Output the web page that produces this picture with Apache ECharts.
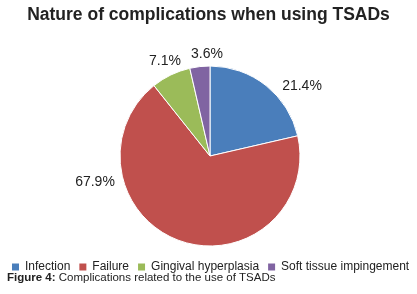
<!DOCTYPE html>
<html lang="en">
<head>
    <meta charset="UTF-8">
    <title>Nature of complications</title>
    <script type="text/javascript" src="https://cdn.jsdelivr.net/npm/echarts@6/dist/echarts.min.js"></script>
    <style>
        html, body { margin: 0; padding: 0; background: #fff; }
    </style>
</head>
<body>
<div id="chartmain" style="width:417px;height:294px"></div>
<script>
    var categories = ['Infection', 'Failure', 'Gingival hyperplasia', 'Soft tissue impingement'];
    var values = [21.4, 67.9, 7.1, 3.6];
    var colors = ['#4a7ebb', '#c0504d', '#9bbb59', '#8064a2'];
    // label centres (Excel "best fit" placement), px
    var labelSpots = [[302, 86], [95, 182], [165, 61], [207, 54]];

    var pieData = [];
    for (var i = 0; i < categories.length; i++) {
        pieData.push({ name: categories[i], value: values[i], itemStyle: { color: colors[i] } });
    }

    var font = '"Liberation Sans", Arial, Helvetica, sans-serif';

    var option = {
        animation: false,
        title: {
            text: 'Nature of complications when using TSADs',
            left: 'center',
            top: 6,
            padding: 0,
            textStyle: { fontFamily: font, fontSize: 17.5, fontWeight: 'bold', color: '#222' }
        },
        legend: {
            top: 261,
            left: 10,
            padding: 0,
            width: 410,
            itemWidth: 9,
            itemHeight: 9,
            itemGap: 7,
            icon: 'rect',
            textStyle: { fontFamily: font, fontSize: 12, color: '#222' },
            data: categories
        },
        graphic: [{
            type: 'text',
            left: 7,
            top: 272,
            style: {
                text: '{b|Figure 4:} Complications related to the use of TSADs',
                font: '11.5px ' + font,
                fill: '#222',
                rich: {
                    b: { fontFamily: font, fontSize: 11.5, fontWeight: 'bold', fill: '#222' }
                }
            }
        }],
        series: [{
            type: 'pie',
            center: [210, 156],
            radius: 90,
            startAngle: 90,
            clockwise: true,
            itemStyle: { borderColor: '#fff', borderWidth: 1 },
            label: {
                show: true,
                position: 'outside',
                formatter: function (p) { return p.value.toFixed(1) + '%'; },
                fontFamily: font,
                fontSize: 14,
                color: '#222'
            },
            labelLine: { show: false },
            labelLayout: function (params) {
                var s = labelSpots[params.dataIndex];
                return { x: s[0], y: s[1], align: 'center', verticalAlign: 'middle' };
            },
            emphasis: { disabled: true },
            data: pieData
        }]
    };

    var myChart = echarts.init(document.getElementById('chartmain'));
    myChart.setOption(option);
</script>
</body>
</html>
